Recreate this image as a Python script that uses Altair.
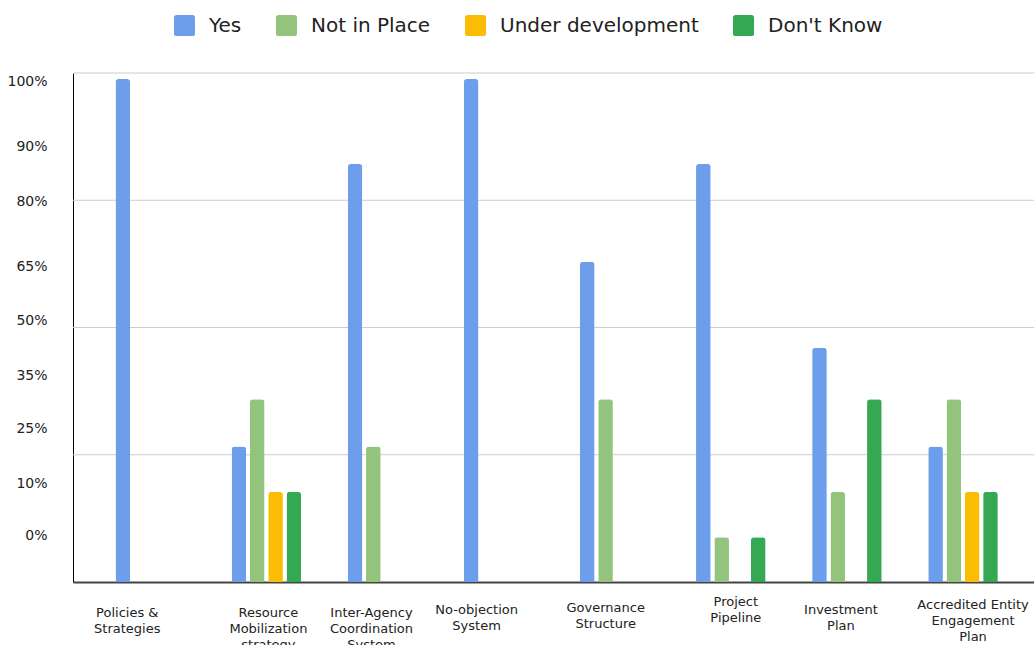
import altair as alt
import pandas as pd

categories = [
    "Policies &\nStrategies",
    "Resource\nMobilization\nstrategy",
    "Inter-Agency\nCoordination\nSystem",
    "No-objection\nSystem",
    "Governance\nStructure",
    "Project\nPipeline",
    "Investment\nPlan",
    "Accredited Entity\nEngagement\nPlan",
]
series = ["Yes", "Not in Place", "Under development", "Don't Know"]
colors = ["#6d9eeb", "#93c47d", "#fbbc04", "#34a853"]

yes_vals = [98.8, 26.6, 82.1, 98.8, 62.9, 82.1, 46.0, 26.6]
not_in_place_vals = [0, 35.9, 26.6, 0, 35.9, 8.8, 17.7, 35.9]
under_dev_vals = [0, 17.7, 0, 0, 0, 0, 0, 17.7]
dont_know_vals = [0, 17.7, 0, 0, 0, 8.8, 35.9, 17.7]

gridlines = [25, 50, 75, 100]
ytick_pos = [9.2, 19.4, 30.1, 40.5, 51.3, 61.9, 74.7, 85.5, 98.4]
ytick_text = ["0%", "10%", "25%", "35%", "50%", "65%", "80%", "90%", "100%"]

rows = []
for s, vals in zip(series, [yes_vals, not_in_place_vals, under_dev_vals, dont_know_vals]):
    for c, v in zip(categories, vals):
        rows.append({"category": c, "series": s, "value": v})
df = pd.DataFrame(rows)
grid_df = pd.DataFrame({"value": gridlines})

# per-label nudges of the category labels (style only)
label_pad = {3: 21, 4: 19, 5: 13, 6: 21, 7: 16}
label_off = {0: -23, 1: 2, 2: -11, 3: -22, 4: -9, 5: 5, 6: -6, 7: 10}
n = len(categories)
pad_cond = [{"test": f"round(datum.index*{n-1}) == {i}", "value": v} for i, v in label_pad.items()]
off_cond = [{"test": f"round(datum.index*{n-1}) == {i}", "value": v} for i, v in label_off.items()]

label_js = "[" + ",".join(f"'{t}'" for t in ytick_text) + "]"
pos_js = "[" + ",".join(str(p) for p in ytick_pos) + "]"

y_enc = alt.Y(
    "value:Q",
    scale=alt.Scale(domain=[0, 100], nice=False, zero=True),
    axis=alt.Axis(
        title=None,
        values=ytick_pos,
        labelExpr=f"{label_js}[indexof({pos_js}, datum.value)]",
        grid=False,
        ticks=False,
        tickSize=0,
        domain=True,
        domainColor="#000000",
        domainWidth=1,
        labelFont="DejaVu Sans",
        labelFontSize=14,
        labelColor="#222222",
        labelPadding=26,
        labelAlign="right",
    ),
)

grid = alt.Chart(grid_df).mark_rule(color="#cccccc", strokeWidth=1).encode(y=y_enc)

rounded_square = "M -1 -0.75 Q -1 -1 -0.75 -1 L 0.75 -1 Q 1 -1 1 -0.75 L 1 0.75 Q 1 1 0.75 1 L -0.75 1 Q -1 1 -1 0.75 Z"

bars = alt.Chart(df).transform_filter("datum.value > 0").mark_bar(
    cornerRadiusTopLeft=3, cornerRadiusTopRight=3
).encode(
    x=alt.X(
        "category:N",
        sort=categories,
        scale=alt.Scale(domain=categories, paddingInner=0.401, paddingOuter=0.339, align=0.54),
        axis=alt.Axis(
            title=None,
            labelAngle=0,
            labelExpr="split(datum.label, '\\n')",
            labelFont="DejaVu Sans",
            labelFontSize=13,
            labelColor="#222222",
            labelLineHeight=16,
            labelBaseline="top",
            labelPadding={"condition": pad_cond, "value": 24},
            labelOffset={"condition": off_cond, "value": 0},
            ticks=False,
            domain=True,
            domainColor="#444444",
            domainWidth=2,
            grid=False,
            labelLimit=200,
        ),
    ),
    xOffset=alt.XOffset("series:N", sort=series, scale=alt.Scale(domain=series, paddingInner=0.2, paddingOuter=0)),
    y=y_enc,
    color=alt.Color(
        "series:N",
        sort=series,
        scale=alt.Scale(domain=series, range=colors),
        legend=alt.Legend(
            title=None,
            orient="none",
            direction="horizontal",
            legendX=101,
            legendY=-58,
            symbolType=rounded_square,
            symbolSize=441,
            symbolStrokeWidth=0,
            labelFont="DejaVu Sans",
            labelFontSize=20,
            labelColor="#222222",
            labelOffset=14,
            columnPadding=34,
            padding=0,
            labelLimit=300,
        ),
    ),
)

chart = alt.layer(grid, bars).properties(
    width=961,
    height=509,
    padding={"left": 73, "top": 73, "right": 0, "bottom": 63},
    autosize=alt.AutoSizeParams(type="none"),
    background="white",
).configure_view(stroke=None)

chart.save("out.html", embed_options={"renderer": "svg", "actions": False})
